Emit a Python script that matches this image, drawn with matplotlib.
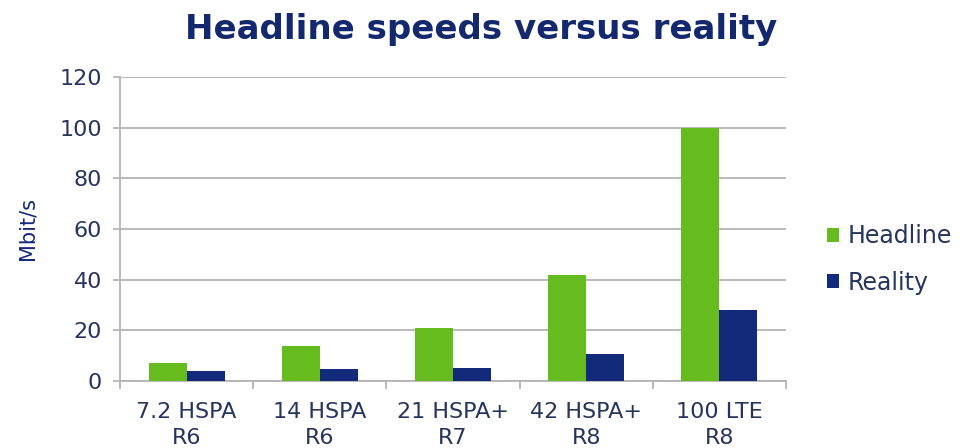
import matplotlib
matplotlib.use("Agg")
import matplotlib.pyplot as plt
import numpy as np

categories = ["7.2 HSPA\nR6", "14 HSPA\nR6", "21 HSPA+\nR7", "42 HSPA+\nR8", "100 LTE\nR8"]
headline = [7.2, 14, 21, 42, 100]
reality = [4, 4.7, 5, 10.8, 28]

GREEN = "#66bb1f"; NAVY = "#13297a"; TXT = "#26355e"; GRID = "#b4b4b4"

fig = plt.figure(figsize=(9.71, 4.48), dpi=100)
ax = fig.add_axes([0.1236, 0.1496, 0.6859, 0.6786])

x = np.arange(len(categories))
w = 0.285
ax.bar(x - w/2, headline, w, color=GREEN, label="Headline", zorder=3)
ax.bar(x + w/2, reality, w, color=NAVY, label="Reality", zorder=3)

ax.set_xlim(-0.5, len(categories) - 0.5)
ax.set_ylim(0, 120)
ax.set_yticks(range(0, 121, 20))
ax.yaxis.grid(True, color=GRID, lw=1.3, zorder=0)
ax.tick_params(axis="y", length=5, width=1.3, color=GRID, pad=8, labelsize=16, labelcolor=TXT)

# category labels centred, tick marks on category boundaries
ax.set_xticks(x)
ax.set_xticklabels(categories, fontsize=16, color=TXT, linespacing=1.4)
ax.tick_params(axis="x", length=0, pad=15)
ax.set_xticks(np.arange(-0.5, len(categories), 1), minor=True)
ax.tick_params(axis="x", which="minor", length=6, color=GRID, width=1.3)

for s in ["top", "right"]:
    ax.spines[s].set_visible(False)
ax.spines["left"].set_color(GRID); ax.spines["left"].set_linewidth(1.3)
ax.spines["bottom"].set_color(GRID); ax.spines["bottom"].set_linewidth(1.3)

ax.set_ylabel("Mbit/s", fontsize=15, color=NAVY, labelpad=16)

fig.text(0.496, 0.935, "Headline speeds versus reality", ha="center", va="center",
         fontsize=24.5, weight="bold", color="#14286e")

leg = ax.legend(loc="center left", bbox_to_anchor=(1.03, 0.40), frameon=False,
                fontsize=17, handlelength=0.5, handleheight=0.5, handletextpad=0.35,
                labelspacing=0.95)
for t in leg.get_texts():
    t.set_color(TXT)

fig.savefig("out.png", dpi=100, facecolor="white")
